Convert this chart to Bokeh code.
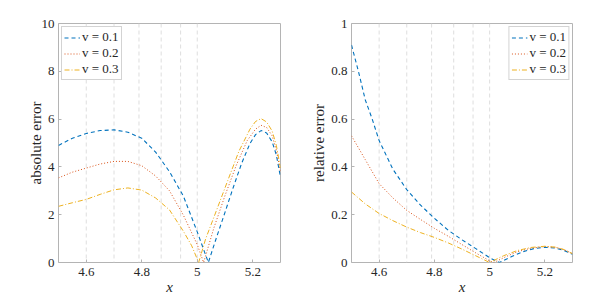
from bokeh.plotting import figure
from bokeh.models import FixedTicker, CustomJSTickFormatter, Span, Range1d
from bokeh.layouts import row
from bokeh.embed import file_html
from bokeh.resources import INLINE

# ---------------- data ----------------
series_labels = ["v = 0.1", "v = 0.2", "v = 0.3"]
x_ticks = [4.6, 4.8, 5.0, 5.2]
abs_y_ticks = [0, 2, 4, 6, 8, 10]
rel_y_ticks = [0, 0.2, 0.4, 0.6, 0.8, 1.0]
node_x = [4.6, 4.7, 4.79, 4.87, 4.94, 5.0]

# absolute error
abs_x_v1 = [4.50, 4.55, 4.60, 4.65, 4.70, 4.75, 4.80, 4.85, 4.90, 4.95, 5.00, 5.04, 5.07, 5.10, 5.13, 5.16, 5.19, 5.21, 5.23, 5.25, 5.27, 5.285, 5.30]
abs_y_v1 = [4.90, 5.20, 5.40, 5.52, 5.55, 5.45, 5.20, 4.62, 3.80, 2.78, 1.28, 0.00, 1.07, 2.10, 3.15, 4.15, 4.98, 5.35, 5.52, 5.42, 5.05, 4.50, 3.57]
abs_x_v2 = [4.50, 4.55, 4.60, 4.65, 4.70, 4.75, 4.80, 4.85, 4.90, 4.95, 5.00, 5.023, 5.06, 5.10, 5.14, 5.18, 5.21, 5.23, 5.25, 5.27, 5.285, 5.30]
abs_y_v2 = [3.54, 3.78, 3.95, 4.12, 4.23, 4.23, 4.05, 3.62, 3.00, 1.98, 0.75, 0.00, 1.45, 2.80, 4.05, 5.10, 5.58, 5.74, 5.65, 5.30, 4.70, 3.80]
abs_x_v3 = [4.50, 4.55, 4.60, 4.65, 4.70, 4.75, 4.80, 4.85, 4.90, 4.95, 4.98, 5.005, 5.03, 5.07, 5.11, 5.15, 5.19, 5.21, 5.23, 5.25, 5.27, 5.285, 5.30]
abs_y_v3 = [2.35, 2.50, 2.64, 2.85, 3.04, 3.12, 3.03, 2.70, 2.20, 1.31, 0.70, 0.00, 0.98, 2.20, 3.43, 4.65, 5.58, 5.90, 6.02, 5.88, 5.50, 4.90, 3.95]

# relative error
rel_x_v1 = [4.50, 4.525, 4.55, 4.575, 4.60, 4.65, 4.70, 4.75, 4.80, 4.85, 4.90, 4.95, 5.00, 5.035, 5.08, 5.12, 5.16, 5.20, 5.24, 5.27, 5.30]
rel_y_v1 = [0.91, 0.80, 0.68, 0.60, 0.51, 0.39, 0.305, 0.24, 0.185, 0.135, 0.095, 0.058, 0.02, 0.0, 0.025, 0.045, 0.058, 0.064, 0.060, 0.050, 0.035]
rel_x_v2 = [4.50, 4.55, 4.60, 4.65, 4.70, 4.75, 4.80, 4.85, 4.90, 4.95, 5.00, 5.015, 5.06, 5.10, 5.15, 5.20, 5.24, 5.27, 5.30]
rel_y_v2 = [0.53, 0.43, 0.33, 0.27, 0.218, 0.18, 0.143, 0.11, 0.075, 0.04, 0.007, 0.0, 0.025, 0.045, 0.060, 0.067, 0.063, 0.053, 0.037]
rel_x_v3 = [4.50, 4.55, 4.60, 4.65, 4.70, 4.75, 4.80, 4.85, 4.90, 4.95, 5.00, 5.05, 5.10, 5.15, 5.20, 5.24, 5.27, 5.30]
rel_y_v3 = [0.295, 0.245, 0.205, 0.175, 0.148, 0.125, 0.105, 0.082, 0.056, 0.028, 0.0, 0.028, 0.050, 0.063, 0.068, 0.064, 0.054, 0.037]

# ---------------- styles ----------------
colors = ["#0072BD", "#D95319", "#EDB120"]
dashes = ["4 3", "1 2", "5 2 1 2"]
widths = [1.1, 1.0, 1.0]
FONT = "Liberation Serif"
AX = "#b4b4b4"
TXT = "#262626"

fmt = CustomJSTickFormatter(code="return (Math.round(tick*10)/10).toString();")


def style_axis(ax, ticks):
    ax.ticker = FixedTicker(ticks=ticks)
    ax.formatter = fmt
    ax.axis_line_color = None
    ax.major_tick_line_color = AX
    ax.major_tick_in = 3
    ax.major_tick_out = 0
    ax.minor_tick_line_color = None
    ax.major_label_text_font = FONT
    ax.major_label_text_color = TXT
    ax.major_label_text_font_size = "13px"
    ax.major_label_standoff = 4
    ax.axis_label_text_font = FONT
    ax.axis_label_text_color = TXT
    ax.axis_label_text_font_style = "normal"
    ax.axis_label_text_font_size = "15px"


def make_fig(width, left_border, right_border, y_max, y_ticks, ylabel, label_standoff,
             xs, ys, legend_loc):
    p = figure(width=width, height=299, output_backend="svg", toolbar_location=None,
               x_range=Range1d(4.5, 5.3), y_range=Range1d(0, y_max),
               min_border_left=left_border, min_border_right=right_border,
               min_border_top=23, min_border_bottom=37,
               background_fill_color="white", border_fill_color="white")
    p.outline_line_color = AX
    p.outline_line_width = 1
    p.grid.visible = False
    for nx in node_x:
        p.add_layout(Span(location=nx, dimension="height", line_color="#dedede",
                          line_dash="4 3", line_width=1, level="underlay"))
    for i in range(3):
        p.line(xs[i], ys[i], line_color=colors[i], line_dash=dashes[i],
               line_width=widths[i], legend_label=series_labels[i])
    style_axis(p.xaxis[0], x_ticks)
    style_axis(p.yaxis[0], y_ticks)
    p.xaxis[0].axis_label = "x"
    p.xaxis[0].axis_label_text_font_style = "italic"
    p.xaxis[0].axis_label_standoff = 0
    p.xaxis[0].major_label_standoff = 5
    p.yaxis[0].axis_label = ylabel
    p.yaxis[0].axis_label_standoff = label_standoff

    lg = p.legend[0]
    lg.location = legend_loc
    lg.margin = 3
    lg.padding = 2
    lg.spacing = 0
    lg.glyph_width = 16
    lg.glyph_height = 13
    lg.label_height = 13
    lg.label_standoff = 2
    lg.label_text_font = FONT
    lg.label_text_font_size = "13px"
    lg.label_text_color = TXT
    lg.border_line_color = "#a8a8a8"
    lg.border_line_width = 1
    lg.background_fill_color = "white"
    lg.background_fill_alpha = 1
    return p


p1 = make_fig(298, 58, 18, 10, abs_y_ticks, "absolute error", -5,
              [abs_x_v1, abs_x_v2, abs_x_v3], [abs_y_v1, abs_y_v2, abs_y_v3], "top_left")
p2 = make_fig(300, 53, 26, 1, rel_y_ticks, "relative error", 1,
              [rel_x_v1, rel_x_v2, rel_x_v3], [rel_y_v1, rel_y_v2, rel_y_v3], "top_right")

layout = row(p1, p2)
open("out.html", "w").write(file_html(layout, INLINE))
